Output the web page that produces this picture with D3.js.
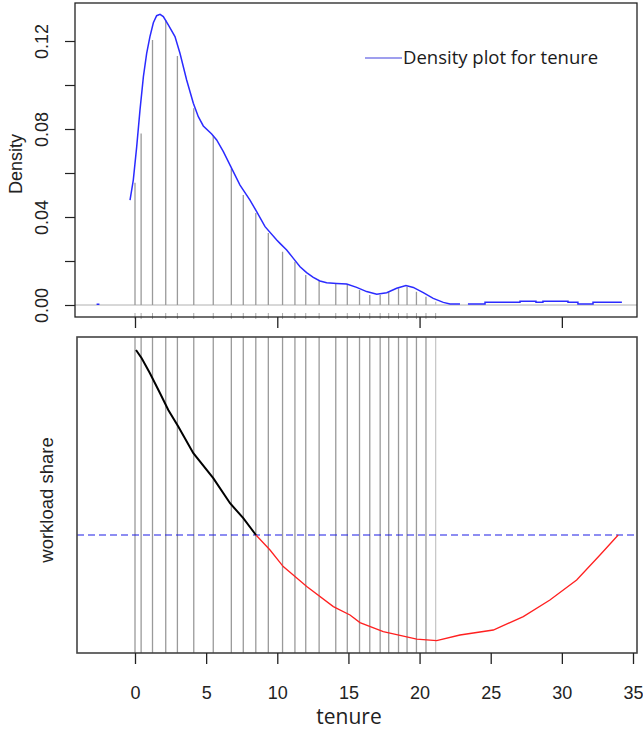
<!DOCTYPE html>
<html>
<head>
<meta charset="utf-8">
<script src="https://cdn.jsdelivr.net/npm/d3@7"></script>
<style>
  body { margin: 0; background: #fff; }
  svg { display: block; }
</style>
</head>
<body>
<svg id="chart" width="643" height="729"></svg>
<script>
// density of tenure (top panel), null = break in the curve
const densTenure = [-2.7, -2.5, -1.5, -0.35, -0.12, 0.12, 0.35, 0.59, 0.82, 1.05, 1.29, 1.52, 1.76, 1.99, 2.34, 2.81, 3.16, 3.63, 4.10, 4.45, 4.80, 5.39, 5.74, 6.21, 6.68, 7.38, 8.08, 8.55, 9.14, 9.96, 10.19, 10.66, 11.13, 11.6, 12.06, 12.53, 13.0, 13.47, 14.17, 14.88, 15.58, 16.28, 16.99, 17.69, 18.39, 19.04, 19.56, 20.26, 20.96, 21.67, 22.14, 22.84, 23.1, 23.4, 24.6, 24.6, 27.06, 27.06, 28.18, 28.18, 28.67, 28.67, 30.43, 30.43, 31.13, 31.13, 32.19, 32.19, 34.22];
const densValue = [0.0003, 0.0003, null, 0.0477, 0.0568, 0.0720, 0.0886, 0.1038, 0.1144, 0.1220, 0.1283, 0.1315, 0.1321, 0.1311, 0.1273, 0.1220, 0.1144, 0.1023, 0.0917, 0.0856, 0.0814, 0.0777, 0.0750, 0.0697, 0.0636, 0.0545, 0.0477, 0.0424, 0.0356, 0.0295, 0.0280, 0.0250, 0.0212, 0.0174, 0.0147, 0.0126, 0.0109, 0.0101, 0.0098, 0.0095, 0.0080, 0.0061, 0.0049, 0.0056, 0.0076, 0.0088, 0.0080, 0.0056, 0.0030, 0.0012, 0.0005, 0.0005, null, 0.0005, 0.0005, 0.0012, 0.0012, 0.0017, 0.0017, 0.0012, 0.0012, 0.0017, 0.0017, 0.0012, 0.0012, 0.0005, 0.0005, 0.0012, 0.0012];

// vertical cut lines (tenure) and the density height they reach in the top panel
const cutTenure = [0, 0.43, 1.23, 2.16, 2.98, 4.13, 5.5, 6.77, 7.61, 8.49, 9.37, 10.37, 11.24, 12.0, 12.94, 14.11, 14.92, 15.78, 16.5, 17.23, 17.83, 18.52, 19.12, 19.78, 20.45, 21.13];
const cutDensity = [0.0556, 0.0779, 0.1205, 0.1295, 0.1132, 0.0894, 0.0770, 0.0621, 0.0500, 0.0418, 0.0327, 0.0242, 0.0197, 0.0136, 0.0109, 0.0095, 0.0095, 0.0068, 0.0045, 0.0045, 0.0060, 0.0076, 0.0083, 0.0060, 0.0038, 0.0015];

// workload share (bottom panel), relative to the equal share level 1
const blackTenure = [0.07, 0.47, 1.05, 1.76, 2.34, 3.04, 4.10, 5.50, 6.68, 7.61, 8.50];
const blackShare = [1.925, 1.884, 1.809, 1.709, 1.625, 1.542, 1.409, 1.284, 1.159, 1.084, 1.0];
const redTenure = [8.50, 9.49, 10.42, 12.07, 13.94, 15.11, 15.81, 17.45, 19.80, 21.20, 22.84, 25.18, 27.29, 29.16, 31.04, 32.68, 33.96];
const redShare = [1.0, 0.925, 0.842, 0.742, 0.642, 0.60, 0.562, 0.517, 0.479, 0.472, 0.50, 0.525, 0.592, 0.675, 0.775, 0.90, 1.0];
const equalShare = 1.0;

// ticks
const yTickValues = [0, 0.02, 0.04, 0.06, 0.08, 0.10, 0.12];
const yTickLabels = ["0.00", "", "0.04", "", "0.08", "", "0.12"];
const topXTicks = [0, 10, 20, 30];
const bottomXTicks = [0, 5, 10, 15, 20, 25, 30, 35];

const svg = d3.select("#chart");

const x = d3.scaleLinear().domain([0, 35]).range([135, 633]);
const yD = d3.scaleLinear().domain([0, 0.12]).range([305, 41]);
const yS = d3.scaleLinear().domain([0.41, 1.99]).range([653, 337]);

const topBox = { l: 75, t: 3, r: 637, b: 317 };
const botBox = { l: 77, t: 337, r: 637, b: 653 };

// ---- top panel ----
// zero line
svg.append("line")
    .attr("x1", topBox.l).attr("x2", topBox.r)
    .attr("y1", yD(0)).attr("y2", yD(0))
    .attr("stroke", "#b0b0b0").attr("stroke-width", 1);

// cut lines under the density
svg.append("g").selectAll("line")
    .data(cutTenure)
    .join("line")
    .attr("x1", d => x(d)).attr("x2", d => x(d))
    .attr("y1", yD(0))
    .attr("y2", (d, i) => yD(cutDensity[i]))
    .attr("stroke", (d, i) => i == cutTenure.length - 1 ? "#c8c8c8" : "#9a9a9a")
    .attr("stroke-width", 1.3);

// little rug marks on the axis
svg.append("g").selectAll("line")
    .data(cutTenure)
    .join("line")
    .attr("x1", d => x(d)).attr("x2", d => x(d))
    .attr("y1", topBox.b - 4).attr("y2", topBox.b + 2)
    .attr("stroke", "#aaa").attr("stroke-width", 1);

const dens = densTenure.map((t, i) => ({ t: t, v: densValue[i] }));
const densLine = d3.line()
    .defined(d => d.v != null)
    .x(d => x(d.t))
    .y(d => yD(d.v));
svg.append("path")
    .datum(dens)
    .attr("d", densLine)
    .attr("fill", "none")
    .attr("stroke", "#2b2bff")
    .attr("stroke-width", 1.5);

svg.append("rect")
    .attr("x", topBox.l).attr("y", topBox.t)
    .attr("width", topBox.r - topBox.l).attr("height", topBox.b - topBox.t)
    .attr("fill", "none").attr("stroke", "#222").attr("stroke-width", 1.3);

const yAxis = svg.append("g")
    .attr("transform", `translate(${topBox.l},0)`)
    .call(d3.axisLeft(yD).tickValues(yTickValues).tickSize(10)
        .tickFormat((d, i) => yTickLabels[i]));
yAxis.select(".domain").remove();
yAxis.selectAll(".tick line").attr("stroke", "#222").attr("stroke-width", 1.2);
yAxis.selectAll(".tick text")
    .attr("transform", "rotate(-90)")
    .attr("text-anchor", "middle")
    .attr("x", 0).attr("y", -27).attr("dy", 0)
    .attr("font-family", "Liberation Sans, Arial, sans-serif")
    .attr("font-size", 18).attr("fill", "#222");

const topAxis = svg.append("g")
    .attr("transform", `translate(0,${topBox.b})`)
    .call(d3.axisBottom(x).tickValues(topXTicks).tickSize(11).tickFormat(""));
topAxis.select(".domain").remove();
topAxis.selectAll(".tick line").attr("stroke", "#222").attr("stroke-width", 1.3);

svg.append("text")
    .attr("transform", "translate(22,164) rotate(-90)")
    .attr("text-anchor", "middle")
    .attr("font-family", "Liberation Sans, Arial, sans-serif")
    .attr("font-size", 18).attr("fill", "#222")
    .text("Density");

// legend
svg.append("line")
    .attr("x1", 365).attr("x2", 402).attr("y1", 58).attr("y2", 58)
    .attr("stroke", "#7f7fe8").attr("stroke-width", 1.3);
svg.append("text")
    .attr("x", 403).attr("y", 63.5)
    .attr("font-family", "Open Sans, sans-serif")
    .attr("font-size", 18.5).attr("fill", "#1a1a1a")
    .text("Density plot for tenure");

// ---- bottom panel ----
svg.append("g").selectAll("line")
    .data(cutTenure)
    .join("line")
    .attr("x1", d => x(d)).attr("x2", d => x(d))
    .attr("y1", botBox.t).attr("y2", botBox.b)
    .attr("stroke", (d, i) => i == cutTenure.length - 1 ? "#c8c8c8" : "#9a9a9a")
    .attr("stroke-width", 1.3);

svg.append("line")
    .attr("x1", botBox.l).attr("x2", botBox.r)
    .attr("y1", yS(equalShare)).attr("y2", yS(equalShare))
    .attr("stroke", "#1c1ce6").attr("stroke-width", 1.2)
    .attr("stroke-dasharray", "7,4");

const shareLine = d3.line().x(d => x(d[0])).y(d => yS(d[1]));
svg.append("path")
    .datum(redTenure.map((t, i) => [t, redShare[i]]))
    .attr("d", shareLine)
    .attr("fill", "none").attr("stroke", "#ff2020").attr("stroke-width", 1.3);
svg.append("path")
    .datum(blackTenure.map((t, i) => [t, blackShare[i]]))
    .attr("d", shareLine)
    .attr("fill", "none").attr("stroke", "#000").attr("stroke-width", 2);

svg.append("rect")
    .attr("x", botBox.l).attr("y", botBox.t)
    .attr("width", botBox.r - botBox.l).attr("height", botBox.b - botBox.t)
    .attr("fill", "none").attr("stroke", "#444").attr("stroke-width", 1.6);

const xAxis = svg.append("g")
    .attr("transform", `translate(0,${botBox.b})`)
    .call(d3.axisBottom(x).tickValues(bottomXTicks).tickSize(11).tickPadding(22));
xAxis.select(".domain").remove();
xAxis.selectAll(".tick line").attr("stroke", "#222").attr("stroke-width", 1.3);
xAxis.selectAll(".tick text")
    .attr("font-family", "Liberation Sans, Arial, sans-serif")
    .attr("font-size", 18).attr("fill", "#222");

svg.append("text")
    .attr("transform", "translate(52.5,500) rotate(-90)")
    .attr("text-anchor", "middle")
    .attr("font-family", "Liberation Sans, Arial, sans-serif")
    .attr("font-size", 18.5).attr("fill", "#222")
    .text("workload share");

svg.append("text")
    .attr("x", 349).attr("y", 724)
    .attr("text-anchor", "middle")
    .attr("font-family", "Open Sans, sans-serif")
    .attr("font-size", 21).attr("fill", "#222")
    .text("tenure");
</script>
</body>
</html>
